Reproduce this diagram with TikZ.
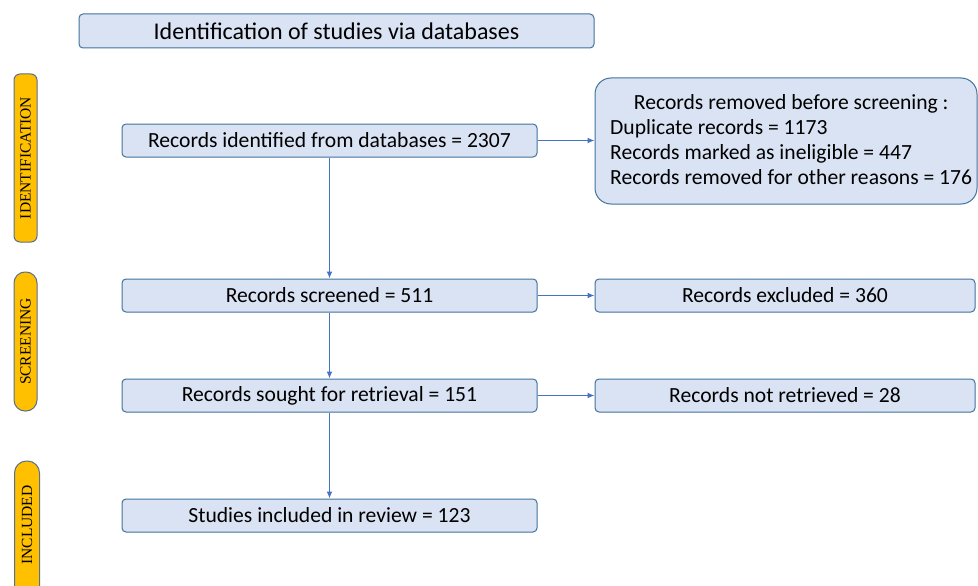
\documentclass[tikz,border=0pt]{standalone}
\usepackage{fontspec}
\setmainfont{Carlito}
\newfontfamily\sidefont{Liberation Serif}
\usetikzlibrary{arrows.meta}
\definecolor{boxfill}{HTML}{DAE3F3}
\definecolor{boxline}{HTML}{41719C}
\definecolor{arrowblue}{HTML}{4472C4}
\definecolor{phasefill}{HTML}{FFC000}
\definecolor{phaseline}{HTML}{5B6E8C}
\tikzset{
  flowbox/.style={draw=boxline, fill=boxfill, line width=1pt, rounded corners=4pt,
    font=\fontsize{21.6}{25}\selectfont, inner sep=0pt},
  phase/.style={draw=phaseline, fill=phasefill, line width=1pt, rounded corners=6pt},
  phasetext/.style={font=\sidefont\fontsize{15.5}{17}\selectfont, rotate=90},
  link/.style={draw=arrowblue, line width=1.3pt, -{Latex[length=7pt,width=6pt]}}
}
\begin{document}
\begin{tikzpicture}[x=1pt,y=-1pt]
\useasboundingbox (0,0) rectangle (978,586);
% header
\node[flowbox, font=\fontsize{24}{28}\selectfont, minimum width=515pt, minimum height=34pt] (head) at (336.5,31) {Identification of studies via databases};
% main column
\node[flowbox, minimum width=415pt, minimum height=33pt] (ident) at (329.5,140.5) {Records identified from databases = 2307};
\node[flowbox, minimum width=415pt, minimum height=33pt] (screen) at (329.5,295.5) {Records screened = 511};
\node[flowbox, minimum width=415pt, minimum height=33pt] (sought) at (329.5,395.5) {Records sought for retrieval = 151};
\node[flowbox, minimum width=415pt, minimum height=33pt] (incl) at (329.5,515.5) {Studies included in review = 123};
% right column
\node[flowbox, rounded corners=16pt, minimum width=382pt, minimum height=126pt] (removed) at (786,141) {};
\node[font=\fontsize{21.6}{25}\selectfont, align=left, anchor=north west, inner sep=0pt] (removedtxt) at (610,94)
  {\makebox[362pt][c]{Records removed before screening :}\\[0pt]
   Duplicate records = 1173\\[0pt]
   Records marked as ineligible = 447\\[0pt]
   Records removed for other reasons = 176};
\node[flowbox, minimum width=380pt, minimum height=33pt] (excl) at (785,295.5) {Records excluded = 360};
\node[flowbox, minimum width=380pt, minimum height=33pt] (notret) at (785,395.5) {Records not retrieved = 28};
% phase labels
\node[phase, minimum width=23pt, minimum height=168pt] (p1) at (25.5,158) {};
\node[phasetext] at (p1) {IDENTIFICATION};
\node[phase, rounded corners=11pt, minimum width=23pt, minimum height=139pt] (p2) at (25.5,341.5) {};
\node[phasetext] at (p2) {SCREENING};
\node[phase, rounded corners=12pt, minimum width=25pt, minimum height=140pt] (p3) at (27,531) {};
\node[phasetext] at (27,525) {INCLUDED};
% connectors
\draw[link] (ident) -- (screen);
\draw[link] (screen) -- (sought);
\draw[link] (sought) -- (incl);
\draw[link] (ident.east) -- (ident.east -| removed.west);
\draw[link] (screen) -- (excl);
\draw[link] (sought) -- (notret);
\end{tikzpicture}
\end{document}
